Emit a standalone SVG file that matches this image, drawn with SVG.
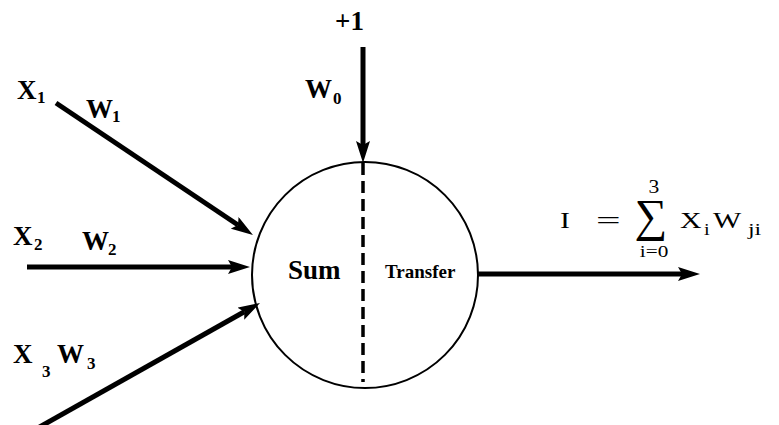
<svg xmlns="http://www.w3.org/2000/svg" width="779" height="425" viewBox="0 0 779 425">
<defs>
<style>
.lbl{font-family:"Liberation Serif","Times New Roman",serif;font-weight:bold;fill:#000}
.big{font-size:27px}
.sub{font-size:17px}
.math{font-family:"Liberation Serif","Times New Roman",serif;fill:#000}
.m{font-size:23px}
.ms{font-size:17px}
.conn{stroke:#000;stroke-width:5;fill:none}
</style>
<marker id="ah" markerUnits="userSpaceOnUse" markerWidth="24" markerHeight="14" refX="4" refY="7" orient="auto">
<path d="M0,0 L22,7 L0,14 L4,7 z" fill="#000"/>
</marker>
</defs>
<rect width="779" height="425" fill="#fff"/>
<g id="neuron">
<circle cx="365" cy="275" r="113" fill="none" stroke="#000" stroke-width="2"/>
<line x1="363" y1="163" x2="363" y2="382" stroke="#000" stroke-width="3.5" stroke-dasharray="12 6"/>
<text class="lbl big" x="288" y="279">Sum</text>
<text class="lbl" style="font-size:19px" x="385" y="278">Transfer</text>
</g>
<g id="connectors">
<line class="conn" x1="56" y1="103" x2="238" y2="225" marker-end="url(#ah)"/>
<line class="conn" x1="27" y1="267" x2="232" y2="267" marker-end="url(#ah)"/>
<line class="conn" x1="20" y1="438" x2="244.3" y2="311.8" marker-end="url(#ah)"/>
<line class="conn" x1="363" y1="47" x2="363" y2="145" marker-end="url(#ah)"/>
<line class="conn" x1="478" y1="274" x2="682" y2="274" marker-end="url(#ah)"/>
</g>
<g id="bias">
<text class="lbl big" x="335" y="30">+1</text>
<text class="lbl big" x="305" y="98">W</text><text class="lbl sub" x="333" y="104">0</text>
</g>
<g id="input1">
<text class="lbl big" x="17" y="99">X</text><text class="lbl sub" x="37" y="103">1</text>
<text class="lbl big" x="86" y="118">W</text><text class="lbl sub" x="112" y="122">1</text>
</g>
<g id="input2">
<text class="lbl big" x="13" y="245">X</text><text class="lbl sub" x="34" y="250">2</text>
<text class="lbl big" x="82" y="250">W</text><text class="lbl sub" x="108" y="255">2</text>
</g>
<g id="input3">
<text class="lbl big" x="13" y="363">X</text><text class="lbl sub" x="42" y="377">3</text>
<text class="lbl big" x="57" y="363">W</text><text class="lbl sub" x="87" y="369">3</text>
</g>
<g id="formula">
<text class="math m" transform="translate(560,228) scale(1.3,1)">I</text>
<text class="math m" transform="translate(596,228) scale(1.9,1)">=</text>
<text class="math" style="font-size:46px" x="651" y="231" text-anchor="middle">∑</text>
<text class="math" style="font-size:18px" text-anchor="middle" transform="translate(654,193) scale(1.2,1)">3</text>
<text class="math ms" text-anchor="middle" transform="translate(654,257) scale(1.25,1)">i=0</text>
<text class="math m" transform="translate(680,228) scale(1.3,1)">X</text>
<text class="math ms" transform="translate(704,235) scale(1.2,1)">i</text>
<text class="math m" transform="translate(713,228) scale(1.3,1)">W</text>
<text class="math ms" transform="translate(748,235) scale(1.4,1)">ji</text>
</g>
</svg>
